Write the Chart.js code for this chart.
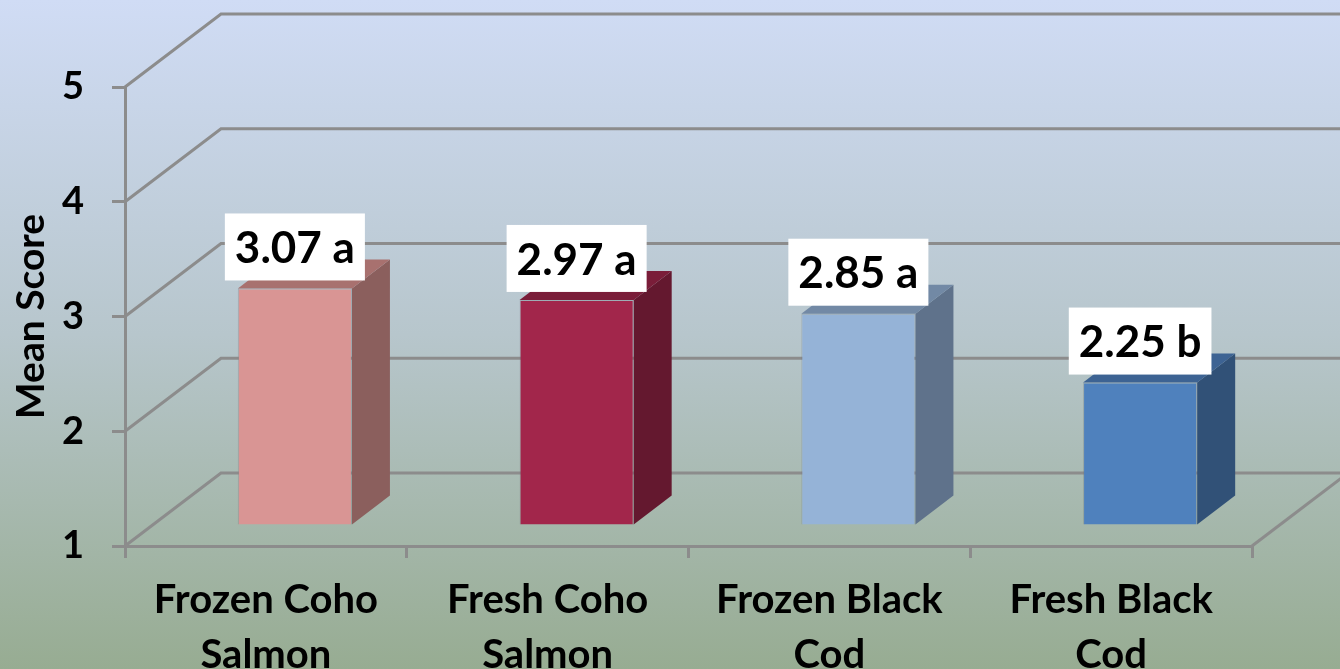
<!DOCTYPE html>
<html>
<head>
<meta charset="utf-8">
<script src="https://cdn.jsdelivr.net/npm/chart.js@4.4.0/dist/chart.umd.min.js"></script>
<style>
  html, body { margin: 0; padding: 0; }
  #wrap { width: 1340px; height: 669px; position: relative; }
</style>
</head>
<body>
<div id="wrap"><canvas id="meanChart"></canvas></div>
<script>
// values
const categories = [
    ["Frozen Coho", "Salmon"],
    ["Fresh Coho", "Salmon"],
    ["Frozen Black", "Cod"],
    ["Fresh Black", "Cod"],
];
const meanScores = [3.07, 2.97, 2.85, 2.25];
const groupLetters = ["a", "a", "a", "b"];
const yTicks = [1, 2, 3, 4, 5];

// bar faces: front / top / side
const frontColors = ["#d99594", "#a2264b", "#95b3d7", "#4f81bd"];
const topColors = ["#a8716f", "#7a1d39", "#7289a5", "#3d6393"];
const sideColors = ["#8b5f5d", "#64182f", "#5f728b", "#315177"];

// 3D box depth (full depth of the floor), bar front offset and bar depth
const DEPTH_X = 96;
const DEPTH_Y = -73;
const FRONT_X = 29;
const FRONT_Y = -20;
const SIDE_X = 38;
const SIDE_Y = -29;
const GRID_COLOR = "#8c8c8c";

document.addEventListener("DOMContentLoaded", function () {
    const ctx = document.getElementById("meanChart").getContext("2d");

    const background = {
        id: "background",
        beforeDraw(chart) {
            const c = chart.ctx;
            const g = c.createLinearGradient(0, 0, 0, chart.height);
            g.addColorStop(0, "rgb(208,220,245)");
            g.addColorStop(0.5, "rgb(183,198,204)");
            g.addColorStop(1, "rgb(151,172,146)");
            c.save();
            c.fillStyle = g;
            c.fillRect(0, 0, chart.width, chart.height);
            c.restore();
        },
    };

    const walls = {
        id: "walls",
        beforeDatasetsDraw(chart) {
            const c = chart.ctx;
            const y = chart.scales.y;
            const { left, right, bottom } = chart.chartArea;
            c.save();
            c.strokeStyle = GRID_COLOR;
            c.lineWidth = 3;
            c.lineCap = "butt";
            // back wall gridlines + left wall diagonals
            yTicks.forEach((v) => {
                const py = y.getPixelForValue(v);
                c.beginPath();
                c.moveTo(left, py);
                c.lineTo(left + DEPTH_X, py + DEPTH_Y);
                c.lineTo(right + DEPTH_X, py + DEPTH_Y);
                c.stroke();
            });
            // floor right edge
            c.beginPath();
            c.moveTo(right, bottom);
            c.lineTo(right + DEPTH_X, bottom + DEPTH_Y);
            c.stroke();
            c.restore();

            // bar tops and sides, then shift the context for the front faces
            c.save();
            c.translate(FRONT_X, FRONT_Y);
            chart.getDatasetMeta(0).data.forEach((bar, i) => {
                const l = bar.x - bar.width / 2, r = bar.x + bar.width / 2;
                const t = bar.y, b = bar.base;
                c.fillStyle = sideColors[i];
                c.beginPath();
                c.moveTo(r, t);
                c.lineTo(r + SIDE_X, t + SIDE_Y);
                c.lineTo(r + SIDE_X, b + SIDE_Y);
                c.lineTo(r, b);
                c.closePath();
                c.fill();
                c.fillStyle = topColors[i];
                c.beginPath();
                c.moveTo(l, t);
                c.lineTo(r, t);
                c.lineTo(r + SIDE_X, t + SIDE_Y);
                c.lineTo(l + SIDE_X, t + SIDE_Y);
                c.closePath();
                c.fill();
            });
        },
        afterDatasetsDraw(chart) {
            const c = chart.ctx;
            c.restore();

            // value boxes above each bar
            c.save();
            c.font = "bold 44px Lato";
            c.textAlign = "center";
            c.textBaseline = "middle";
            chart.getDatasetMeta(0).data.forEach((bar, i) => {
                const text = meanScores[i].toFixed(2) + " " + groupLetters[i];
                const w = c.measureText(text).width + 20;
                const h = 67;
                const cx = bar.x + FRONT_X;
                const bottomY = bar.y + FRONT_Y - 8;
                c.fillStyle = "#ffffff";
                c.fillRect(cx - w / 2, bottomY - h, w, h);
                c.fillStyle = "#000000";
                c.fillText(text, cx, bottomY - h / 2 + 2);
            });
            c.restore();
        },
    };

    new Chart(ctx, {
        type: "bar",
        data: {
            labels: categories,
            datasets: [
                {
                    data: meanScores,
                    base: 1,
                    backgroundColor: frontColors,
                    borderColor: "rgba(110,120,130,0.35)",
                    borderWidth: 1,
                    categoryPercentage: 1,
                    barPercentage: 0.405,
                },
            ],
        },
        options: {
            responsive: true,
            maintainAspectRatio: false,
            animation: false,
            layout: {
                padding: { top: 87, right: 88, bottom: 0, left: 0 },
            },
            plugins: {
                legend: { display: false },
                tooltip: { enabled: false },
            },
            scales: {
                x: {
                    afterFit: function (scale) {
                        scale.height = 123;
                    },
                    grid: {
                        display: true,
                        drawOnChartArea: false,
                        drawTicks: true,
                        tickLength: 12,
                        color: GRID_COLOR,
                        lineWidth: 3,
                    },
                    border: { display: true, color: GRID_COLOR, width: 3 },
                    ticks: {
                        color: "#000",
                        padding: 15,
                        maxRotation: 0,
                        font: { family: "Lato", weight: "bold", size: 40, lineHeight: 1.37 },
                    },
                },
                y: {
                    min: 1,
                    max: 5,
                    beginAtZero: false,
                    afterFit: function (scale) {
                        scale.width = 125;
                    },
                    afterBuildTicks: function (scale) {
                        scale.ticks = yTicks.map((v) => ({ value: v }));
                    },
                    grid: {
                        display: true,
                        drawOnChartArea: false,
                        drawTicks: true,
                        tickLength: 13,
                        color: GRID_COLOR,
                        lineWidth: 3,
                    },
                    border: { display: true, color: GRID_COLOR, width: 3 },
                    ticks: {
                        color: "#000",
                        padding: 28,
                        font: { family: "Lato", weight: "bold", size: 38 },
                    },
                    title: {
                        display: true,
                        text: "Mean Score",
                        color: "#000",
                        padding: { top: 8, bottom: 0 },
                        font: { family: "Lato", weight: "bold", size: 39 },
                    },
                },
            },
        },
        plugins: [background, walls],
    });
});
</script>
</body>
</html>
